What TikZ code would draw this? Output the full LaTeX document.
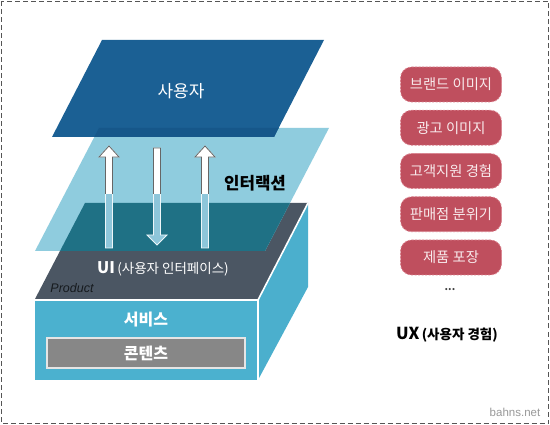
\documentclass[tikz,border=0pt]{standalone}
\usepackage{fontspec}
\setmainfont{Noto Sans CJK KR}
\newfontfamily\latinfont{Liberation Sans}
\definecolor{topblue}{HTML}{1B6094}
\definecolor{stripblue}{HTML}{16578A}
\definecolor{lightpara}{HTML}{8FCCDE}
\definecolor{tealover}{HTML}{1F7185}
\definecolor{slate}{HTML}{4B5663}
\definecolor{frontblue}{HTML}{4BB1CF}
\definecolor{sideblue}{HTML}{4BAFCD}
\definecolor{contentgray}{HTML}{878787}
\definecolor{pillred}{HTML}{BF4F5E}
\definecolor{pillborder}{HTML}{DC8490}
\definecolor{pilltext}{HTML}{F8EAEC}
\definecolor{arrlow}{HTML}{8EC6DA}
\definecolor{framegray}{HTML}{555555}
\def\UpArrowPath{(-3.5,248) -- (-3.5,157) -- (-10,157) -- (0,146) -- (10,157) -- (3.5,157) -- (3.5,248) -- cycle}
\def\DownArrowPath{(-3.5,148) -- (3.5,148) -- (3.5,235) -- (10,235) -- (0,245) -- (-10,235) -- (-3.5,235) -- cycle}
\def\TopFacePath{(85,203) -- (308,203) -- (258,299) -- (35,299) -- cycle}
\def\LightParaPath{(99,128) -- (329,128) -- (265,251) -- (35,251) -- cycle}
\def\TopParaPath{(102,40) -- (324,40) -- (274,137) -- (52,137) -- cycle}
\tikzset{
  frame/.style={draw=framegray, line width=1.3pt, dash pattern=on 5pt off 3pt},
  whitetext/.style={text=white, inner sep=0pt},
  pillbox/.style={fill=pillred, draw=pillborder, line width=0.8pt, dash pattern=on 2pt off 1.5pt,
    rounded corners=11pt, minimum width=101pt, minimum height=35pt, inner sep=0pt,
    text=pilltext, font=\fontsize{14.3}{15}\selectfont},
  contentbox/.style={fill=contentgray, draw=white!80!gray, line width=1.3pt,
    minimum width=198pt, minimum height=30pt, inner sep=0pt,
    text=white, font=\fontsize{16}{16}\selectfont\bfseries},
  arrowlowstyle/.style={fill=arrlow, draw=white!85!arrlow, line width=0.8pt},
  arrowhighstyle/.style={fill=white, draw=black!60, line width=0.8pt}
}
\begin{document}
\begin{tikzpicture}[x=1pt,y=-1pt]
\useasboundingbox (0,0) rectangle (550,425);
\fill[white] (0,0) rectangle (550,425);
\draw[frame] (1.5,1.5) rectangle (548.5,423.5);

% product box
\fill[sideblue] (308,203) -- (308,287) -- (258,380) -- (258,300) -- cycle;
\fill[frontblue] (35,300) rectangle (258,380);
\fill[slate] \TopFacePath;
\draw[white, line width=1.6pt] (35,300) -- (258,300) -- (258,380);
\draw[white, line width=1.6pt] (258,300) -- (308,203);

% interaction layer
\fill[lightpara] \LightParaPath;
\begin{scope}
  \clip \TopFacePath;
  \fill[tealover] \LightParaPath;
\end{scope}

% user layer
\fill[topblue] \TopParaPath;
\begin{scope}
  \clip \TopParaPath;
  \fill[stripblue] \LightParaPath;
\end{scope}

% arrows
\begin{scope}[shift={(109,0)}]
  \filldraw[arrowlowstyle] \UpArrowPath;
  \begin{scope}\clip (-20,0) rectangle (20,194);
    \filldraw[arrowhighstyle] \UpArrowPath;
  \end{scope}
\end{scope}
\begin{scope}[shift={(205,0)}]
  \filldraw[arrowlowstyle] \UpArrowPath;
  \begin{scope}\clip (-20,0) rectangle (20,194);
    \filldraw[arrowhighstyle] \UpArrowPath;
  \end{scope}
\end{scope}
\begin{scope}[shift={(157,0)}]
  \filldraw[arrowlowstyle] \DownArrowPath;
  \begin{scope}\clip (-20,0) rectangle (20,194);
    \filldraw[arrowhighstyle] \DownArrowPath;
  \end{scope}
\end{scope}

% texts
\node[whitetext, font=\fontsize{17}{17}\selectfont] (user) at (181,91) {사용자};
\node[inner sep=0pt, font=\fontsize{16.8}{17}\selectfont\bfseries] (inter) at (255,183) {인터랙션};
\node[whitetext] (ui) at (163,269) {{\fontsize{16}{16}\selectfont\bfseries UI} {\fontsize{13.5}{14}\selectfont(사용자 인터페이스)}};
\node[inner sep=0pt, text=black!70!slate, font=\fontsize{12.5}{12.5}\selectfont\latinfont\itshape] (product) at (72,288) {Product};
\node[whitetext, font=\fontsize{16}{16}\selectfont\bfseries] (svc) at (146,320) {서비스};
\node[contentbox] (content) at (146,353) {콘텐츠};

% UX side
\node[pillbox] (p1) at (451,84.5) {브랜드 이미지};
\node[pillbox] (p2) at (451,127.75) {광고 이미지};
\node[pillbox] (p3) at (451,171) {고객지원 경험};
\node[pillbox] (p4) at (451,214.25) {판매점 분위기};
\node[pillbox] (p5) at (451,257.5) {제품 포장};
\node[inner sep=0pt, text=black!75, font=\fontsize{10}{10}\selectfont\bfseries] (dots) at (450,290) {...};
\node[inner sep=0pt, font=\bfseries] (ux) at (447,335) {{\fontsize{16.5}{16.5}\selectfont UX} {\fontsize{13.5}{13.5}\selectfont(사용자 경험)}};

\node[inner sep=0pt, text=black!40, font=\fontsize{11.5}{11.5}\selectfont\latinfont] (wm) at (515,412) {bahns.net};
\end{tikzpicture}
\end{document}
